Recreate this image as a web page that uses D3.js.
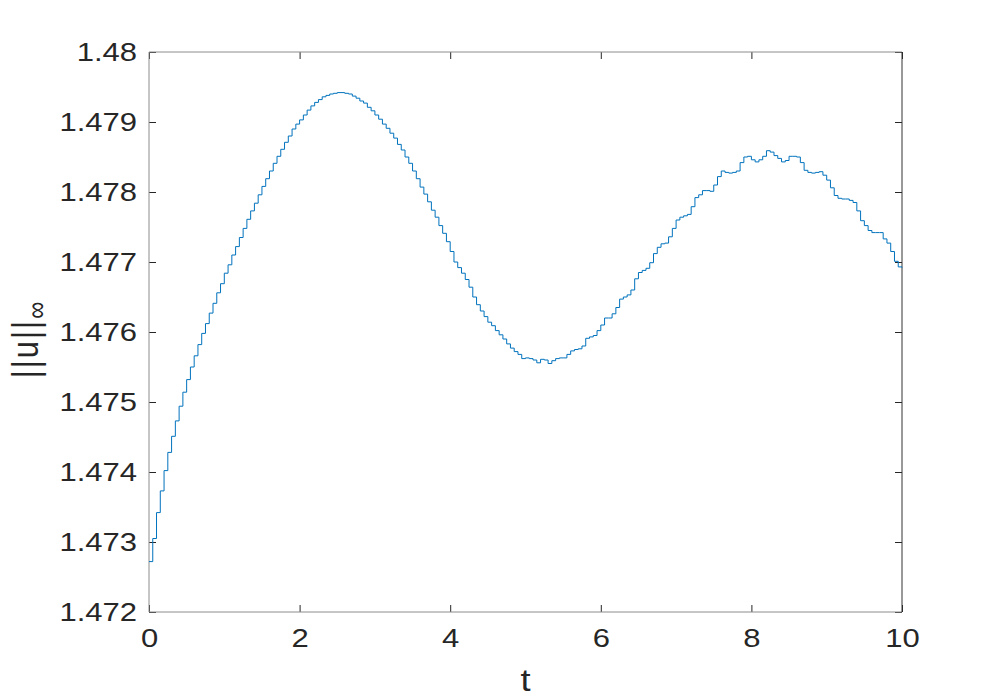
<!DOCTYPE html>
<html lang="en">
<head>
<meta charset="UTF-8">
<script src="https://d3js.org/d3.v7.min.js"></script>
<title>||u|| inf vs t</title>
<style>
  body { margin: 0; background: #fff; }
  svg { font-family: "Liberation Sans", Arial, sans-serif; }
  .tick text { fill: #262626; }
</style>
</head>
<body>
<div id="chart"></div>
<script>
// time grid step and values
var dt = 0.05;
var uInf = [
  1.47272, 1.47305, 1.47342, 1.47373, 1.47402, 1.47428, 1.47451, 1.47473, 1.47494, 1.47514,
  1.47532, 1.47550, 1.47566, 1.47582, 1.47598, 1.47612, 1.47627, 1.47641, 1.47656, 1.47669,
  1.47684, 1.47696, 1.47710, 1.47722, 1.47735, 1.47748, 1.47761, 1.47773, 1.47784, 1.47796,
  1.47808, 1.47819, 1.47830, 1.47841, 1.47851, 1.47861, 1.47871, 1.47880, 1.47890, 1.47897,
  1.47903, 1.47910, 1.47917, 1.47923, 1.47928, 1.47932, 1.47936, 1.47938, 1.47940, 1.47941,
  1.47942, 1.47942, 1.47941, 1.47940, 1.47937, 1.47934, 1.47930, 1.47927, 1.47921, 1.47916,
  1.47910, 1.47904, 1.47897, 1.47891, 1.47884, 1.47877, 1.47868, 1.47860, 1.47850, 1.47841,
  1.47830, 1.47819, 1.47807, 1.47797, 1.47786, 1.47774, 1.47764, 1.47752, 1.47741, 1.47729,
  1.47715, 1.47700, 1.47692, 1.47684, 1.47675, 1.47664, 1.47650, 1.47639, 1.47630, 1.47622,
  1.47614, 1.47609, 1.47602, 1.47596, 1.47590, 1.47583, 1.47577, 1.47572, 1.47568, 1.47562,
  1.47563, 1.47562, 1.47560, 1.47556, 1.47561, 1.47560, 1.47555, 1.47559, 1.47562, 1.47563,
  1.47563, 1.47568, 1.47573, 1.47575, 1.47576, 1.47580, 1.47591, 1.47593, 1.47595, 1.47602,
  1.47610, 1.47620, 1.47620, 1.47626, 1.47635, 1.47647, 1.47650, 1.47653, 1.47660, 1.47676,
  1.47685, 1.47688, 1.47691, 1.47699, 1.47712, 1.47721, 1.47726, 1.47727, 1.47736, 1.47748,
  1.47760, 1.47764, 1.47766, 1.47768, 1.47779, 1.47792, 1.47796, 1.47802, 1.47802, 1.47801,
  1.47810, 1.47822, 1.47830, 1.47828, 1.47827, 1.47828, 1.47830, 1.47842, 1.47850, 1.47851,
  1.47846, 1.47843, 1.47846, 1.47851, 1.47859, 1.47857, 1.47852, 1.47848, 1.47843, 1.47845,
  1.47851, 1.47851, 1.47850, 1.47842, 1.47831, 1.47828, 1.47827, 1.47828, 1.47829, 1.47824,
  1.47817, 1.47806, 1.47795, 1.47791, 1.47790, 1.47790, 1.47788, 1.47785, 1.47773, 1.47759,
  1.47752, 1.47745, 1.47742, 1.47742, 1.47742, 1.47733, 1.47727, 1.47715, 1.47701, 1.47693,
  1.47692
];
var xTicks = [0, 2, 4, 6, 8, 10];
var yTicks = [1.472, 1.473, 1.474, 1.475, 1.476, 1.477, 1.478, 1.479, 1.48];

var data = uInf.map(function(v, i) { return {t: i * dt, u: v}; });

var W = 997, H = 698;
var margin = {top: 52, right: 95, bottom: 86, left: 149},
    width = W - margin.left - margin.right,
    height = H - margin.top - margin.bottom;

// the original figure was stretched sideways, so is its text
var stretch = 1.17;

var svg = d3.select("#chart").append("svg")
    .attr("width", W)
    .attr("height", H);

var g = svg.append("g")
    .attr("transform", "translate(" + margin.left + "," + margin.top + ")");

var x = d3.scaleLinear().domain([0, 10]).range([0, width]);
var y = d3.scaleLinear().domain([1.472, 1.48]).range([height, 0]);

var fmtY = function(d) { return d3.format("")(+d.toFixed(3)); };

// bottom axis (labels) + inner ticks
var xAxis = g.append("g")
    .attr("transform", "translate(0," + height + ")")
    .call(d3.axisBottom(x).tickValues(xTicks).tickSize(-7).tickPadding(16));
xAxis.selectAll("text")
    .attr("font-size", "26.5px")
    .attr("dy", "0.71em")
    .attr("transform", "scale(" + stretch + ",1)");

var yAxis = g.append("g")
    .call(d3.axisLeft(y).tickValues(yTicks).tickSize(-7).tickPadding(12).tickFormat(fmtY));
yAxis.selectAll("text")
    .attr("font-size", "26.5px")
    .attr("x", 0)
    .attr("transform", "translate(-12,0) scale(" + stretch + ",1)");

// top and right ticks
g.append("g")
    .call(d3.axisTop(x).tickValues(xTicks).tickSize(-7).tickFormat(""));
g.append("g")
    .attr("transform", "translate(" + width + ",0)")
    .call(d3.axisRight(y).tickValues(yTicks).tickSize(-7).tickFormat(""));

g.selectAll(".domain").remove();
g.selectAll(".tick line").attr("stroke", "#262626");

// box
g.append("line").attr("x1", 0).attr("x2", width).attr("y1", 0).attr("y2", 0)
    .attr("stroke", "#8c8c8c");
g.append("line").attr("x1", 0).attr("x2", width).attr("y1", height).attr("y2", height)
    .attr("stroke", "#8c8c8c");
g.append("line").attr("x1", 0).attr("x2", 0).attr("y1", 0).attr("y2", height)
    .attr("stroke", "#8c8c8c");
g.append("line").attr("x1", width).attr("x2", width).attr("y1", 0).attr("y2", height)
    .attr("stroke", "#333");

// stairs
var line = d3.line()
    .curve(d3.curveStepAfter)
    .x(function(d) { return x(d.t); })
    .y(function(d) { return y(d.u); });

g.append("path")
    .datum(data)
    .attr("fill", "none")
    .attr("stroke", "#0072BD")
    .attr("stroke-width", 1)
    .attr("d", line);

// axis labels
svg.append("text")
    .attr("transform", "translate(" + (margin.left + width / 2) + ",691) scale(" + stretch + ",1)")
    .attr("text-anchor", "middle")
    .attr("font-size", "31px")
    .attr("fill", "#262626")
    .text("t");

var yl = svg.append("text")
    .attr("transform", "translate(38,340) scale(" + stretch + ",1) rotate(-90)")
    .attr("text-anchor", "middle")
    .attr("font-size", "31px")
    .attr("fill", "#262626");
yl.append("tspan").attr("letter-spacing", "2px").text("||u||");
yl.append("tspan").attr("dy", "0.28em").attr("font-size", "24px").text("\u221e");
</script>
</body>
</html>
